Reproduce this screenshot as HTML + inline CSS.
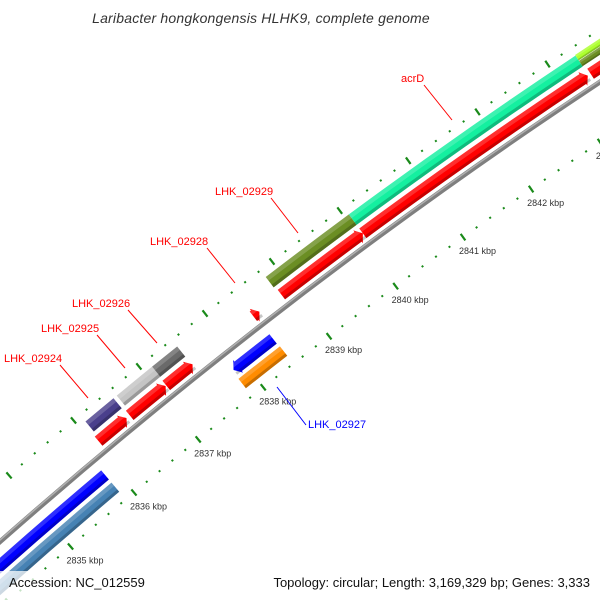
<!DOCTYPE html>
<html><head><meta charset="utf-8"><style>
html,body{margin:0;background:#fff;width:600px;height:600px;overflow:hidden;}
svg{display:block;font-family:"Liberation Sans",sans-serif;}
</style></head><body>
<svg id="map" width="600" height="600" viewBox="0 0 600 600" xmlns="http://www.w3.org/2000/svg" overflow="hidden">
<rect width="600" height="600" fill="#fff"/>
<g id="ticks"></g>
<g id="tracks"></g>
<g id="callouts"></g>
<text x="261" y="23" text-anchor="middle" font-size="14" font-style="italic" fill="#333" letter-spacing="0.2">Laribacter hongkongensis HLHK9, complete genome</text>
<rect x="0" y="571" width="152" height="29" fill="#fff" fill-opacity="0.75"/>
<text x="9" y="587" font-size="13" fill="#111">Accession: NC_012559</text>
<rect x="256" y="571" width="344" height="29" fill="#fff" fill-opacity="0.75"/>
<text x="590" y="587" font-size="13" text-anchor="end" fill="#111">Topology: circular; Length: 3,169,329 bp; Genes: 3,333</text>
</svg>
<script>
// ---- data ----
const tickKbp = [2833,2834,2835,2836,2837,2838,2839,2840,2841,2842,2843,2844];
const tickLabels = ["2833 kbp","2834 kbp","2835 kbp","2836 kbp","2837 kbp","2838 kbp","2839 kbp","2840 kbp","2841 kbp","2842 kbp","2843 kbp","2844 kbp"];
const geneNames = ["LHK_02924","LHK_02925","LHK_02926","LHK_02929","acrD","gene-next-a","gene-next-b"];
const geneStart = [2836.10,2836.58,2837.12,2838.83,2840.06,2843.33,2843.33];
const geneEnd   = [2836.53,2837.12,2837.50,2840.06,2843.33,2845.0,2845.0];
const geneColor = ["#4a3f8c","#c4c4c4","#6a6a6a","#6b8e23","#14f0a0","#6b8e23","#adff2f"];
const geneOffset = [33,33,33,33,33,30,37];
const geneWidth = [13,13,13,13,13,6.5,6.5];
const cdsStart = [2836.07,2836.55,2837.11,2838.43,2838.85,2840.06,2843.36];
const cdsEnd   = [2836.50,2837.10,2837.51,2838.52,2840.06,2843.32,2845.0];
const revNames = ["cds-rev-a","LHK_02927","gene-rev-a","gene-rev-b"];
const revStart = [2833.0,2837.85,2833.0,2837.83];
const revEnd   = [2835.87,2838.45,2835.87,2838.46];
const revColor = ["#0000ff","#0000ff","#4682b4","#ff8c00"];
const revOffset = [-12,-12,-28,-28];
const revArrow = [false,true,false,false];

// ---- geometry ----
const CX=3641, CY=4672, R=5500, DEG=0.875, K0=2840, A0=233.5;
function ang(k){return (A0+(k-K0)*DEG)*Math.PI/180;}
function pt(k,r){const a=ang(k);return [CX+r*Math.cos(a),CY+r*Math.sin(a)];}
function f(p){return p[0].toFixed(2)+","+p[1].toFixed(2);}
const NS="http://www.w3.org/2000/svg";
function mk(tag,parent){const e=document.createElementNS(NS,tag);parent.appendChild(e);return e;}
function arcPath(k1,k2,r1,r2,headEnd,headStart){
  const h=0.07; const rm=(r1+r2)/2;
  let a=k1,b=k2;
  if(headEnd) b=Math.max(k1,k2-h);
  if(headStart) a=Math.min(k2,k1+h);
  let d="M"+f(pt(a,r2))+" A"+r2+","+r2+" 0 0 1 "+f(pt(b,r2));
  if(headEnd){d+=" L"+f(pt(b,r2+2))+" L"+f(pt(k2,rm))+" L"+f(pt(b,r1-2))+" L"+f(pt(b,r1));}
  else d+=" L"+f(pt(b,r1));
  d+=" A"+r1+","+r1+" 0 0 0 "+f(pt(a,r1));
  if(headStart){d+=" L"+f(pt(a,r1-2))+" L"+f(pt(k1,rm))+" L"+f(pt(a,r2+2));}
  return d+" Z";
}
const tg=document.getElementById("ticks");
const tr=document.getElementById("tracks");

for(let i=0;i<tickKbp.length;i++){
  for(let j=0;j<5;j++){
    const k=tickKbp[i]+j*0.2;
    [R-44,R+50].forEach(function(rr){
      const l=mk("line",tg);
      
      
      const len=j===0?4:1;
      const p1=pt(k,rr-len),p2=pt(k,rr+len);
      l.setAttribute("x1",p1[0]);l.setAttribute("y1",p1[1]);l.setAttribute("x2",p2[0]);l.setAttribute("y2",p2[1]);
      l.setAttribute("stroke","#1a8a1a");l.setAttribute("stroke-width",j===0?2.2:2);
    });
  }
  const p=pt(tickKbp[i],R-44);
  const t=mk("text",tg);
  
  
  t.setAttribute("x",p[0]-4);t.setAttribute("y",p[1]+17);t.setAttribute("font-size","9");t.setAttribute("fill","#333");
  t.textContent=tickLabels[i];
}

// backbone
(function(){
  const RB=R+6;
  const d="M"+f(pt(2832.5,RB))+" A"+RB+","+RB+" 0 0 1 "+f(pt(2845,RB));
  const b=mk("path",tr);
  
  
  b.setAttribute("d",d);b.setAttribute("stroke","#7f7f7f");b.setAttribute("stroke-width","5");b.setAttribute("fill","none");
  const b2=mk("path",tr);
  
  
  b2.setAttribute("d",d);b2.setAttribute("stroke","#b0b0b0");b2.setAttribute("stroke-width","1.5");b2.setAttribute("fill","none");
  b2.setAttribute("transform","translate(-0.8,-1)");
})();

function band(k1,k2,off,w,color,name,he,hs){
  const r1=R+off-w/2,r2=R+off+w/2;
  const p=mk("path",tr);
  
  
  p.setAttribute("d",arcPath(k1,k2,r1,r2,he,hs));p.setAttribute("fill",color);
  const s=mk("path",tr);
  
  
  s.setAttribute("d",arcPath(k1,k2,r1,r1+w*0.25,false,false));s.setAttribute("fill","#000");s.setAttribute("fill-opacity","0.22");
  const hl=mk("path",tr);
  
  
  hl.setAttribute("d",arcPath(k1,k2,r2-w*0.35,r2,false,false));hl.setAttribute("fill","#fff");hl.setAttribute("fill-opacity","0.18");
}
for(let i=0;i<cdsStart.length;i++) band(cdsStart[i],cdsEnd[i],18,12,"#ff0000","cds-forward",cdsEnd[i]<2844.9,false);
for(let i=0;i<geneStart.length;i++) band(geneStart[i],geneEnd[i],geneOffset[i]+2,geneWidth[i],geneColor[i],"gene-"+geneNames[i],false,false);
for(let i=0;i<revStart.length;i++) band(revStart[i],revEnd[i],revOffset[i],12,revColor[i],revNames[i],false,revArrow[i]);

// callouts
const cg=document.getElementById("callouts");
const callouts=[
 ["LHK_02924",4,362,60,365,88,398,"#ff0000"],
 ["LHK_02925",41,332,97,335,125,368,"#ff0000"],
 ["LHK_02926",72,307,128,310,157,343,"#ff0000"],
 ["LHK_02928",150,245,207,248,235,283,"#ff0000"],
 ["LHK_02929",215,195,271,198,298,233,"#ff0000"],
 ["acrD",401,82,424,85,452,120,"#ff0000"],
 ["LHK_02927",308,428,306,425,277,387,"#0000ff"]
];
callouts.forEach(function(c){
  const l=mk("line",cg);
  
  
  l.setAttribute("x1",c[3]);l.setAttribute("y1",c[4]);l.setAttribute("x2",c[5]);l.setAttribute("y2",c[6]);
  l.setAttribute("stroke",c[7]);l.setAttribute("stroke-width","1");
  const t=mk("text",cg);
  
  
  t.setAttribute("x",c[1]);t.setAttribute("y",c[2]);t.setAttribute("font-size","11");t.setAttribute("fill",c[7]);
  t.textContent=c[0];
});
</script>
</body></html>
